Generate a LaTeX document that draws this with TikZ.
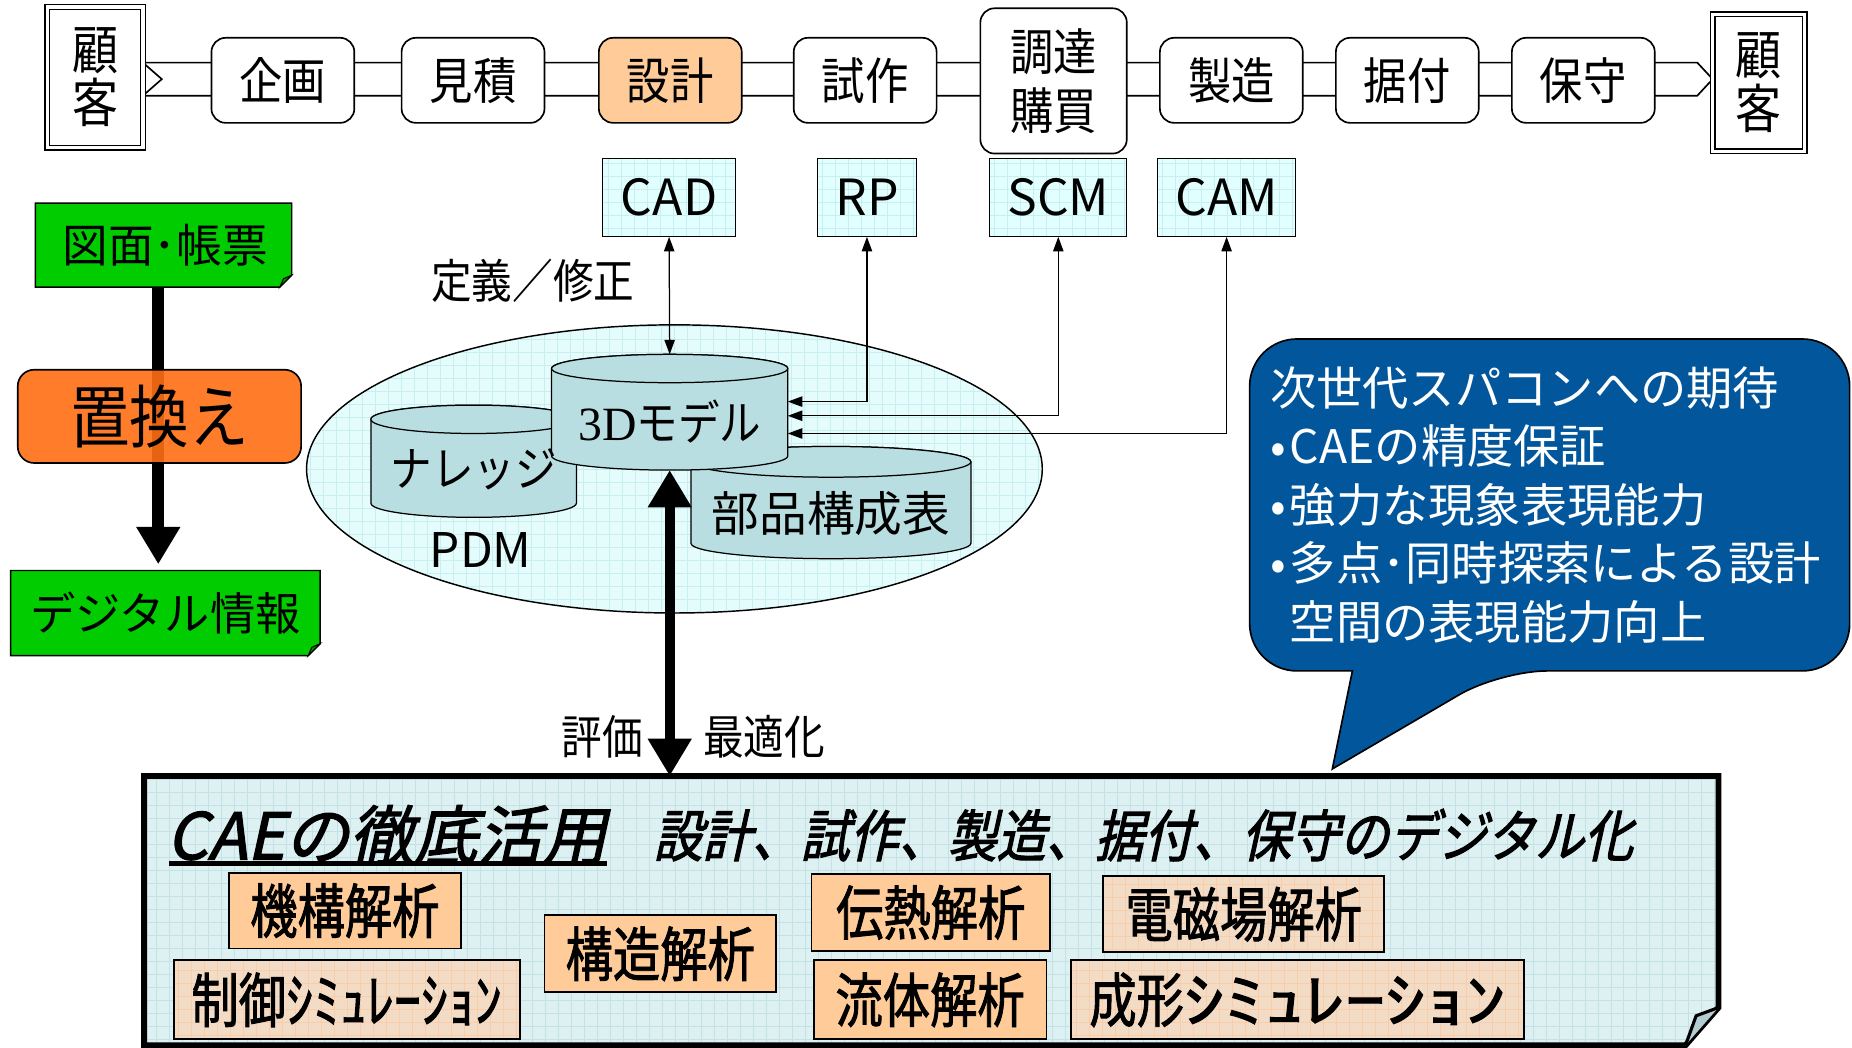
\documentclass[tikz,border=0pt]{standalone}
\usepackage{fontspec}
\setmainfont{Noto Sans CJK JP}
\newfontfamily\jp{Noto Sans CJK JP}
\newfontfamily\jpn[FakeStretch=0.87]{Noto Sans CJK JP}
\newfontfamily\jpb[FakeStretch=0.8,FakeBold=1.5]{Noto Sans CJK JP}
\newfontfamily\jpbi[FakeBold=2,FakeSlant=0.22]{Noto Sans CJK JP}
\newfontfamily\jpbis[FakeStretch=0.875,FakeBold=2,FakeSlant=0.22]{Noto Sans CJK JP}
\newfontfamily\serifjp{Liberation Serif}
\usetikzlibrary{arrows.meta,calc,shapes.geometric}
\definecolor{orng}{RGB}{255,204,153}
\definecolor{beigec}{RGB}{242,220,198}
\definecolor{beigegrid}{RGB}{250,205,170}
\definecolor{grn}{RGB}{0,204,0}
\definecolor{grnfold}{RGB}{0,150,0}
\definecolor{repl}{RGB}{255,110,20}
\definecolor{toolc}{RGB}{225,255,255}
\definecolor{ellc}{RGB}{228,252,252}
\definecolor{gridc}{RGB}{200,238,240}
\definecolor{cylc}{RGB}{185,222,225}
\definecolor{bubc}{RGB}{2,86,155}
\definecolor{caec}{RGB}{221,240,242}
\definecolor{caegrid}{RGB}{196,226,230}
\definecolor{caefold}{RGB}{180,205,210}
\newcommand\bul{\makebox[9.5pt][l]{•}}
\begin{document}
\begin{tikzpicture}[x=0.02cm,y=-0.02cm,
 gridfill/.style={path picture={\draw[draw=#1,line width=0.25pt,step=0.22cm] (path picture bounding box.south west) grid (path picture bounding box.north east);}},
 proc/.style={draw,line width=0.8pt,rounded corners=0.24cm,fill=white,minimum width=2.42cm,minimum height=1.44cm,inner sep=0pt,font=\jpn\fontsize{24pt}{28pt}\selectfont},
 cust/.style={draw,line width=0.7pt,double=white,double distance=1.6pt,fill=white,inner sep=0pt,align=center,font=\jpn\fontsize{25.5pt}{25.6pt}\selectfont},
 tool/.style={draw,line width=0.6pt,fill=toolc,gridfill=gridc,minimum height=1.32cm,inner sep=0pt,font=\jp\fontsize{24pt}{28pt}\selectfont},
 lab/.style={inner sep=0pt,font=\jpn\fontsize{22.5pt}{24pt}\selectfont},
 cyl/.style={draw,line width=0.6pt,fill=cylc},
 cyltext/.style={inner sep=0pt,font=\jpn\fontsize{23pt}{26pt}\selectfont},
 holder/.style={inner sep=0pt,outer sep=0pt,rectangle},
 thinarrow/.style={line width=0.6pt,{Triangle[length=7pt,width=5pt]}-{Triangle[length=7pt,width=5pt]}},
 ana/.style={draw,line width=0.9pt,inner sep=0pt,font=\jpb\fontsize{28.5pt}{30pt}\selectfont},
 anaor/.style={ana,fill=orng},
 anabe/.style={ana,fill=beigec,gridfill=beigegrid},
 gtext/.style={inner sep=0pt,font=\jp\fontsize{22pt}{26pt}\selectfont}
]
\useasboundingbox (0,0) rectangle (1568,887);

% ---------- top process row ----------
\path[draw,line width=0.8pt,fill=white] (121,53) -- (1437,53) -- (1450,67) -- (1437,81) -- (121,81) -- (137,67) -- cycle;
\node[cust,minimum width=1.62cm,minimum height=2.38cm] (kokL) at (80.5,65.5) {顧\\客};
\node[cust,minimum width=1.56cm,minimum height=2.32cm] (kokR) at (1489,70) {顧\\客};
\node[proc] (kikaku) at (239.5,68) {企画};
\node[proc] (mitsu) at (400.5,68) {見積};
\node[proc,fill=orng] (sekkei) at (567.5,68) {設計};
\node[proc] (shisaku) at (732.5,68) {試作};
\node[proc,minimum width=2.48cm,minimum height=2.46cm,align=center,font=\jpn\fontsize{24pt}{28.5pt}\selectfont] (chotatsu) at (892,68.5) {調達\\購買};
\node[proc] (seizo) at (1042.5,68) {製造};
\node[proc] (suetsuke) at (1191.5,68) {据付};
\node[proc] (hoshu) at (1340.5,68) {保守};

% ---------- tools ----------
\node[tool,minimum width=2.26cm] (CAD) at (566.5,167) {CAD};
\node[tool,minimum width=1.68cm] (RP) at (734,167) {RP};
\node[tool,minimum width=2.32cm] (SCM) at (896,167) {SCM};
\node[tool,minimum width=2.34cm] (CAM) at (1038.5,167) {CAM};

% ---------- left column ----------
\path[draw,line width=0.7pt,fill=grn] (30,172) -- (247,172) -- (247,233) -- (237,243) -- (30,243) -- cycle;
\path[draw,line width=0.5pt,fill=grnfold] (247,233) -- (240,236) -- (237,243) -- cycle;
\node[gtext] (zumen) at (140,207.5) {図面･帳票};
\path[draw,line width=0.7pt,fill=grn] (9,483) -- (271,483) -- (271,545) -- (261,555) -- (9,555) -- cycle;
\path[draw,line width=0.5pt,fill=grnfold] (271,545) -- (264,548) -- (261,555) -- cycle;
\node[gtext,font=\jp\fontsize{21.8pt}{26pt}\selectfont] (digital) at (140,519) {デジタル情報};
\draw[line width=5.7pt,-{Triangle[length=18pt,width=20pt]},shorten >=3pt] (134,243) -- (134,483);
\node[draw,line width=0.8pt,fill=repl,fill opacity=0.9,text opacity=1,rounded corners=0.28cm,minimum width=4.8cm,minimum height=1.58cm,inner sep=0pt,font=\jpn\fontsize{33pt}{36pt}\selectfont] (okikae) at (135,352.5) {置換え};

% ---------- PDM ----------
\node[ellipse,draw,line width=0.7pt,fill=ellc,gridfill=gridc,minimum width=12.46cm,minimum height=4.88cm,inner sep=0pt] (pdm) at (571,397) {};
% knowledge cylinder
\path[cyl] (314,355) -- (314,426) arc[start angle=180,end angle=0,x radius=87,y radius=12] -- (488,355) arc[start angle=0,end angle=-180,x radius=87,y radius=12] -- cycle;
\draw[cyl] (401,355) ellipse[x radius=87,y radius=12];
% parts list cylinder
\path[cyl] (585,391) -- (585,460) arc[start angle=180,end angle=0,x radius=118.5,y radius=13] -- (822,391) arc[start angle=0,end angle=-180,x radius=118.5,y radius=13] -- cycle;
\draw[cyl] (703.5,391) ellipse[x radius=118.5,y radius=13];
% 3D model cylinder
\path[cyl] (467,312) -- (467,386) arc[start angle=180,end angle=0,x radius=100,y radius=12] -- (667,312) arc[start angle=0,end angle=-180,x radius=100,y radius=12] -- cycle;
\draw[cyl] (567,312) ellipse[x radius=100,y radius=12];
\node[holder,minimum width=4cm,minimum height=1.96cm] (m3d) at (567,349) {};
\node[cyltext] (m3dt) at (567,357) {{\serifjp 3D}モデル};
\node[cyltext] (know) at (401,397) {ナレッジ};
\node[cyltext,font=\jp\fontsize{23pt}{26pt}\selectfont] (parts) at (703.5,435) {部品構成表};
\node[cyltext,font=\jp\fontsize{23pt}{26pt}\selectfont] (pdmt) at (407,466) {PDM};

% connectors
\draw[thinarrow] (CAD.south) -- (m3d.north);
\draw[thinarrow] (RP.south) |- ($(m3d.east)+(0,-9)$);
\draw[thinarrow] (SCM.south) |- ($(m3d.east)+(0,3)$);
\draw[thinarrow] (CAM.south) |- ($(m3d.east)+(0,18)$);
\node[lab] (teigi) at (451,238) {定義／修正};

% ---------- CAE box ----------
\node[holder,minimum width=26.66cm,minimum height=4.56cm] (cae) at (788.5,771) {};
\path[draw,line width=2.8pt,fill=caec,gridfill=caegrid] (122,657) -- (1455,657) -- (1455,853) -- (1427,885) -- (122,885) -- cycle;
\path[draw,line width=1.5pt,fill=caefold] (1455,853) -- (1436,860) -- (1427,885);
\draw[line width=5pt,{Triangle[length=18pt,width=20pt]}-{Triangle[length=18pt,width=20pt]}] (m3d.south) -- (m3d.south |- cae.north);
\node[lab] (hyoka) at (510,624) {評価};
\node[lab] (saiteki) at (647,624) {最適化};

\node[anchor=west,inner sep=0pt,font=\jpbi\fontsize{31pt}{34pt}\selectfont] (caetitle) at (141,707) {CAEの徹底活用};
\draw[line width=2.4pt] (143,731) -- (514,731);
\node[anchor=west,inner sep=0pt,font=\jpbis\fontsize{27pt}{30pt}\selectfont] (caesub) at (553,707) {設計、試作、製造、据付、保守のデジタル化};

\node[anaor,minimum width=3.92cm,minimum height=1.28cm] (kiko) at (292,771) {機構解析};
\node[anabe,minimum width=5.86cm,minimum height=1.34cm] (seigyo) at (293.5,846.5) {制御\scalebox{1.14}[1]{ｼﾐｭﾚｰｼｮﾝ}};
\node[anaor,minimum width=3.92cm,minimum height=1.30cm] (kozo) at (559,807.5) {構造解析};
\node[anaor,minimum width=4.04cm,minimum height=1.30cm] (dennetsu) at (788,772.5) {伝熱解析};
\node[anaor,minimum width=3.94cm,minimum height=1.34cm] (ryutai) at (787.5,846.5) {流体解析};
\node[anabe,minimum width=4.76cm,minimum height=1.28cm] (denji) at (1053,774) {電磁場解析};
\node[anabe,minimum width=7.66cm,minimum height=1.34cm] (seikei) at (1098.5,846.5) {成形\scalebox{1.7}[1]{ｼﾐｭﾚｰｼｮﾝ}};

% ---------- speech bubble ----------
\path[draw,line width=0.8pt,fill=bubc] (1128,651) -- (1145,568) [rounded corners=0.8cm] -- (1058,568) -- (1058,287) -- (1566,287) -- (1566,568) -- (1270,568) [sharp corners] -- cycle;
\node[anchor=north west,align=left,inner sep=0pt,text=white,font=\jp\fontsize{22.3pt}{28.2pt}\selectfont] (bubtext) at (1075,310) {次世代スパコンへの期待\\\bul CAEの精度保証\\\bul 強力な現象表現能力\\\bul 多点･同時探索による設計\\\hphantom{\bul}空間の表現能力向上};
\end{tikzpicture}
\end{document}
